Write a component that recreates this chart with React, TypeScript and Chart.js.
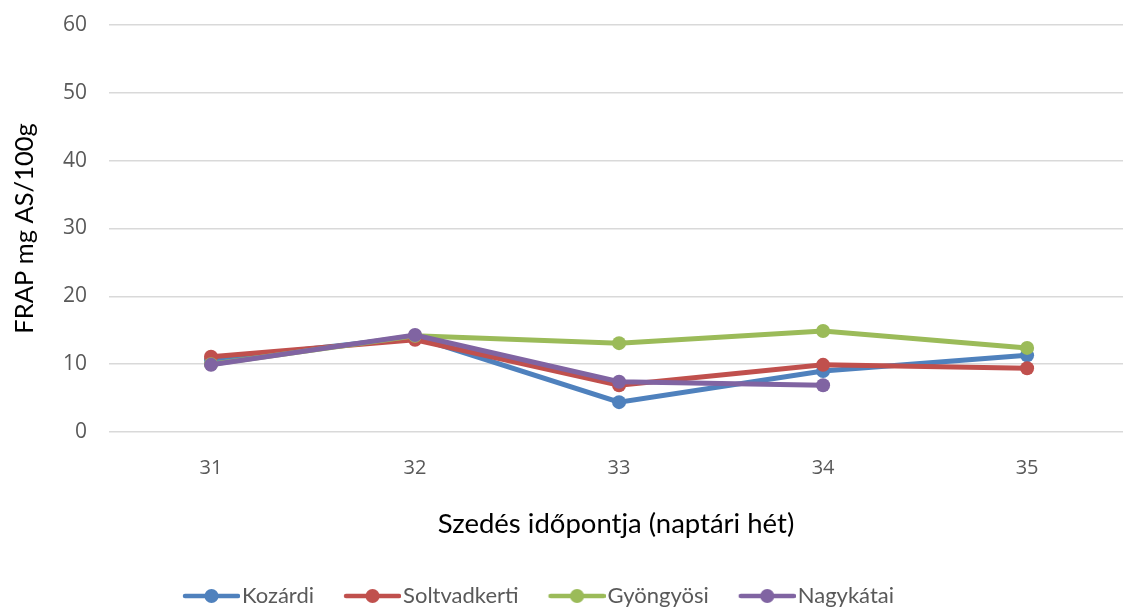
import React, { useEffect, useRef } from "react";
import { Chart, registerables } from "chart.js";

Chart.register(...registerables);

// ---- data ----
const weeks = ["31", "32", "33", "34", "35"];
const seriesNames = ["Kozárdi", "Soltvadkerti", "Gyöngyösi", "Nagykátai"];
const kozardi = [10.6, 14.0, 4.4, 9.0, 11.3];
const soltvadkerti = [11.1, 13.6, 6.9, 9.9, 9.4];
const gyongyosi = [10.0, 14.2, 13.1, 14.9, 12.4];
const nagykatai: (number | null)[] = [9.9, 14.3, 7.4, 6.9, null];
const yTicks = [0, 10, 20, 30, 40, 50, 60];
const xTitle = "Szedés időpontja (naptári hét)";
const yTitle = "FRAP mg AS/100g";

const seriesValues = [kozardi, soltvadkerti, gyongyosi, nagykatai];
const colors = ["#4F81BD", "#C0504D", "#9BBB59", "#8064A2"];

function makeIcon(color: string): HTMLCanvasElement {
  const c = document.createElement("canvas");
  c.width = 86;
  c.height = 16;
  const ctx = c.getContext("2d")!;
  ctx.strokeStyle = color;
  ctx.lineWidth = 4.5;
  ctx.lineCap = "round";
  ctx.beginPath();
  ctx.moveTo(31, 8);
  ctx.lineTo(84, 8);
  ctx.stroke();
  ctx.fillStyle = color;
  ctx.beginPath();
  ctx.arc(57.5, 8, 7, 0, Math.PI * 2);
  ctx.fill();
  return c;
}

export default function App() {
  const ref = useRef<HTMLCanvasElement>(null);

  useEffect(() => {
    if (!ref.current) return;
    const icons = colors.map(makeIcon);
    const shiftLegend = {
      id: "shiftLegend",
      afterLayout(chart: any) {
        if (chart.legend) chart.legend.right -= 66;
      },
    };
    const chart = new Chart(ref.current, {
      type: "line",
      data: {
        datasets: seriesNames.map((name, i) => ({
          label: name,
          data: weeks.map((w, j) => ({ x: Number(w), y: seriesValues[i][j] as any })),
          borderColor: colors[i],
          backgroundColor: colors[i],
          borderWidth: 5,
          pointRadius: 7,
          pointHoverRadius: 7,
          pointBorderWidth: 0,
          tension: 0,
          spanGaps: false,
          order: seriesNames.length - 1 - i,
        })),
      },
      plugins: [shiftLegend],
      options: {
        animation: false,
        responsive: false,
        devicePixelRatio: 1,
        layout: { autoPadding: false, padding: { top: 25, left: 0, right: 0, bottom: -9 } },
        plugins: {
          tooltip: { enabled: false },
          legend: {
            position: "bottom",
            labels: {
              usePointStyle: true,
              pointStyleWidth: 68,
              padding: 10,
              color: "#595959",
              font: { family: "Lato", size: 22 },
              generateLabels: (ch: any) =>
                ch.data.datasets.map((ds: any, i: number) => ({
                  text: ds.label,
                  pointStyle: icons[i],
                  fillStyle: colors[i],
                  strokeStyle: colors[i],
                  lineWidth: 0,
                  hidden: false,
                  datasetIndex: i,
                  fontColor: "#595959",
                })),
            },
          },
        },
        scales: {
          x: {
            type: "linear",
            min: 30.5,
            max: 35.47,
            afterBuildTicks: (axis: any) => {
              axis.ticks = weeks.map((w) => ({ value: Number(w) }));
            },
            afterFit: (axis: any) => {
              axis.height = 143;
              axis.paddingLeft = 0;
              axis.paddingRight = 0;
              axis.paddingTop = 0;
              axis.paddingBottom = 0;
            },
            grid: { display: false, drawTicks: false },
            border: { display: false },
            ticks: {
              padding: 24,
              color: "#595959",
              font: { family: "Open Sans", size: 20 },
              callback: (v: any) => String(v),
            },
            title: {
              display: true,
              text: xTitle,
              color: "#000000",
              font: { family: "Lato", size: 27.5 },
              padding: { top: 0, bottom: 34 },
            },
          },
          y: {
            type: "linear",
            min: 0,
            max: 60,
            afterBuildTicks: (axis: any) => {
              axis.ticks = yTicks.map((v) => ({ value: v }));
            },
            afterFit: (axis: any) => {
              axis.width = 109;
              axis.paddingLeft = 0;
              axis.paddingRight = 0;
              axis.paddingTop = 0;
              axis.paddingBottom = 0;
            },
            grid: { color: "#D9D9D9", lineWidth: 1.5, drawTicks: false },
            border: { display: false },
            ticks: {
              padding: 22,
              color: "#595959",
              font: { family: "Open Sans", size: 21 },
            },
            title: {
              display: true,
              text: yTitle,
              color: "#000000",
              font: { family: "Lato", size: 25.5 },
              padding: { top: 9, bottom: 0 },
            },
          },
        },
      },
    });
    return () => chart.destroy();
  }, []);

  return (
    <div style={{ position: "fixed", left: 0, top: 0, width: 1123, height: 608, background: "#fff" }}>
      <canvas ref={ref} width={1123} height={608} style={{ display: "block" }} />
    </div>
  );
}
